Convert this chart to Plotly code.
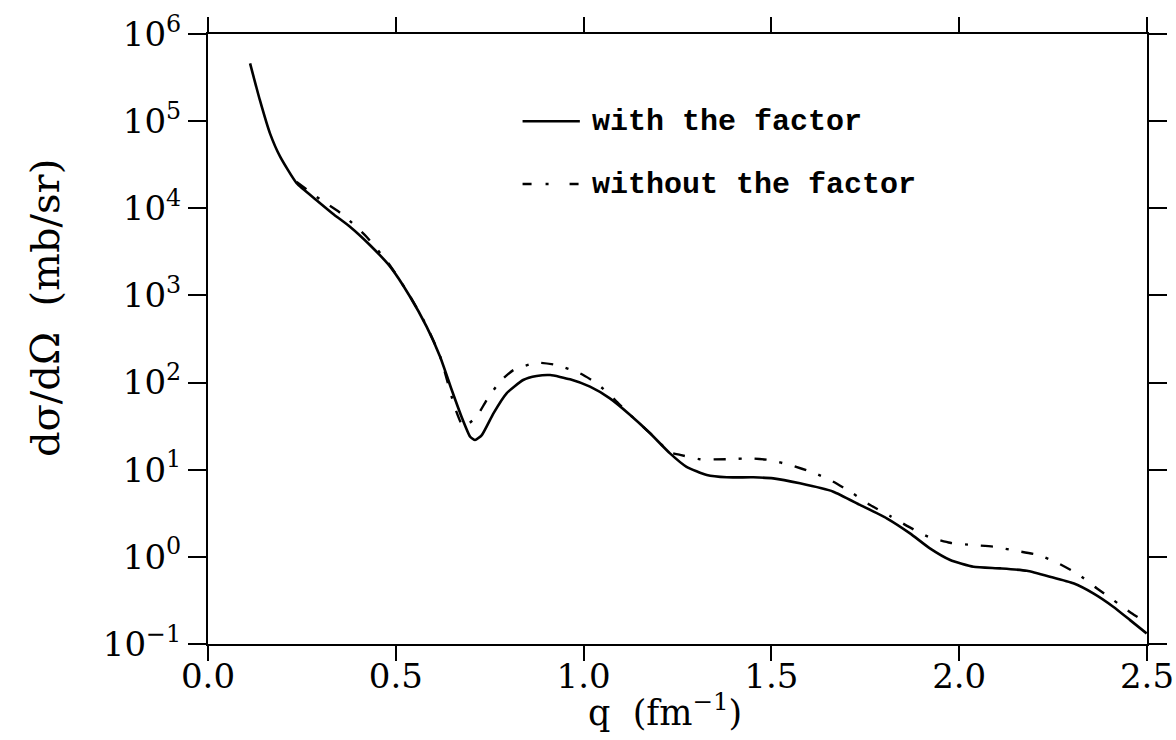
import plotly.graph_objects as go

# ---- data ----
q_with = [0.112, 0.138, 0.165, 0.192, 0.236, 0.289, 0.335, 0.378, 0.431, 0.485,
          0.538, 0.582, 0.618, 0.649, 0.675, 0.698, 0.711, 0.729, 0.760, 0.795,
          0.839, 0.875, 0.911, 0.964, 1.017, 1.070, 1.124, 1.177, 1.230, 1.274,
          1.328, 1.381, 1.452, 1.505, 1.576, 1.665, 1.736, 1.807, 1.869, 1.922,
          1.976, 2.038, 2.109, 2.180, 2.242, 2.304, 2.357, 2.410, 2.455, 2.499]
xs_with = [461000, 175000, 72400, 39100, 19400, 12400, 8500, 6150, 3790, 2140,
           966, 438, 198, 82.2, 40.6, 23.9, 21.9, 25.0, 44.4, 75.3,
           107, 119, 122, 109, 89.7, 65.9, 42.5, 26.2, 15.4, 10.8,
           8.69, 8.18, 8.18, 7.96, 6.98, 5.60, 3.94, 2.77, 1.86, 1.25,
           0.920, 0.771, 0.738, 0.693, 0.592, 0.497, 0.381, 0.268, 0.188, 0.132]

q_without = [0.236, 0.298, 0.360, 0.422, 0.485, 0.538, 0.582, 0.618, 0.658,
             0.680, 0.715, 0.742, 0.777, 0.813, 0.875, 0.928, 0.990, 1.035, 1.084,
             1.124, 1.177, 1.230, 1.257, 1.310, 1.381, 1.443, 1.496, 1.550, 1.612,
             1.665, 1.714, 1.763, 1.816, 1.865, 1.918, 1.976, 2.033, 2.091, 2.153,
             2.211, 2.264, 2.317, 2.366, 2.410, 2.459, 2.495]
xs_without = [20000, 12700, 8380, 4720, 2190, 977, 447, 200, 50.7,
              31.2, 40.6, 63.1, 102, 139, 169, 159, 128, 98.0, 63.1,
              42.5, 26.3, 15.8, 14.8, 13.2, 13.2, 13.5, 12.9, 11.3, 9.25,
              7.28, 5.45, 3.94, 2.94, 2.22, 1.70, 1.45, 1.37, 1.31, 1.17,
              1.05, 0.843, 0.630, 0.436, 0.320, 0.225, 0.180]

x_tickvals = [0.0, 0.5, 1.0, 1.5, 2.0, 2.5]
x_ticktext = ["0.0", "0.5", "1.0", "1.5", "2.0", "2.5"]
y_tickvals = [1e-1, 1e0, 1e1, 1e2, 1e3, 1e4, 1e5, 1e6]
y_ticktext = ["10<sup>\u22121</sup>", "10<sup>0</sup>", "10<sup>1</sup>", "10<sup>2</sup>",
              "10<sup>3</sup>", "10<sup>4</sup>", "10<sup>5</sup>", "10<sup>6</sup>"]

legend_labels = ["with the factor", "without the factor"]
x_title = "q  (fm<sup>\u22121</sup>)"
y_title = "d\u03c3/d\u03a9  (mb/sr)"

SERIF = "DejaVu Serif"
MONO = "Liberation Mono"
DASHDOT = "12px,13px,3px,13px"

fig = go.Figure()
fig.add_trace(go.Scatter(x=q_with, y=xs_with, mode="lines",
                         line=dict(color="black", width=2.6, shape="spline", smoothing=0.5),
                         showlegend=False, name=legend_labels[0]))
fig.add_trace(go.Scatter(x=q_without, y=xs_without, mode="lines",
                         line=dict(color="black", width=2.4, dash=DASHDOT, shape="spline", smoothing=0.5),
                         showlegend=False, name=legend_labels[1]))

# legend drawn by hand to match the reference
fig.add_shape(type="line", xref="paper", yref="paper", x0=0.335, x1=0.396, y0=0.857, y1=0.857,
              line=dict(color="black", width=2.4))
fig.add_shape(type="line", xref="paper", yref="paper", x0=0.335, x1=0.396, y0=0.754, y1=0.754,
              line=dict(color="black", width=2.4, dash="9px,14px,3px,21px"))
fig.add_annotation(xref="paper", yref="paper", x=0.407, y=0.855, xanchor="left", yanchor="middle",
                   text=legend_labels[0], showarrow=False,
                   font=dict(family=MONO, size=30, color="black", weight="bold"))
fig.add_annotation(xref="paper", yref="paper", x=0.407, y=0.752, xanchor="left", yanchor="middle",
                   text=legend_labels[1], showarrow=False,
                   font=dict(family=MONO, size=30, color="black", weight="bold"))

# axis titles as annotations for exact placement
fig.add_annotation(xref="paper", yref="paper", x=0.487, y=-0.108, xanchor="center", yanchor="middle",
                   text=x_title, showarrow=False,
                   font=dict(family=SERIF, size=35, color="black"))
fig.add_annotation(xref="paper", yref="paper", x=-0.174, y=0.55, xanchor="center", yanchor="middle",
                   text=y_title, textangle=-90, showarrow=False,
                   font=dict(family=SERIF, size=40, color="black"))

axis_common = dict(showline=True, linecolor="black", linewidth=2, mirror="allticks",
                   ticks="outside", tickcolor="black", tickwidth=2, showgrid=False,
                   zeroline=False, automargin=False,
                   tickfont=dict(family=SERIF, size=34, color="black"))

fig.update_xaxes(range=[0, 2.5], tickvals=x_tickvals, ticktext=x_ticktext, ticklen=15,
                 ticklabelstandoff=-14, **axis_common)
fig.update_yaxes(type="log", range=[-1, 6], tickvals=y_tickvals, ticktext=y_ticktext, ticklen=18,
                 **axis_common)

fig.update_layout(width=1176, height=740, margin=dict(l=208, r=29, t=34, b=96),
                  paper_bgcolor="white", plot_bgcolor="white")

fig.write_html("out.html")
